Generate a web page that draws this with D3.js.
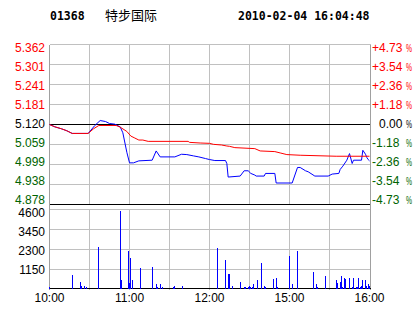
<!DOCTYPE html>
<html>
<head>
<meta charset="utf-8">
<script src="https://cdn.jsdelivr.net/npm/d3@7/dist/d3.min.js"></script>
<style>
  html, body { margin: 0; padding: 0; background: #fff; }
  svg { display: block; }
  text { font-family: "Liberation Sans", Arial, sans-serif; font-size: 12px; }
</style>
</head>
<body>
<script>
// header
const stockCode = '01368'
const stockName = '特步国际'
const stamp = '2010-02-04 16:04:48'
const prevClose = 5.12

// axis labels
const priceTicks = [5.362, 5.301, 5.241, 5.181, 5.120, 5.059, 4.999, 4.938, 4.878]
const priceLabels = ['5.362', '5.301', '5.241', '5.181', '5.120', '5.059', '4.999', '4.938', '4.878']
const pctLabels = ['+4.73', '+3.54', '+2.36', '+1.18', '0.00', '-1.18', '-2.36', '-3.54', '-4.73']
const volTicks = [4600, 3450, 2300, 1150]
const timeTicks = ['10:00', '11:00', '12:00', '15:00', '16:00']

// last price
const priceTimes = ['10:00', '10:04', '10:09', '10:13', '10:17', '10:29', '10:34', '10:38', '10:42', '10:45',
  '10:49', '10:53', '10:55', '10:58', '11:00', '11:03', '11:07', '11:17', '11:20', '11:23',
  '11:34', '11:39', '11:43', '11:48', '11:52', '11:57', '12:00', '12:04', '12:12', '12:13',
  '12:14', '12:23', '12:26', '12:29', '14:31', '14:34', '14:35', '14:41', '14:42', '14:49',
  '14:50', '15:02', '15:06', '15:08', '15:12', '15:14', '15:19', '15:29', '15:32', '15:37',
  '15:38', '15:40', '15:43', '15:45', '15:47', '15:48', '15:54', '15:55', '15:57', '15:58',
  '15:59', '16:00']
const priceValues = [5.120, 5.113, 5.107, 5.101, 5.093, 5.093, 5.117, 5.132, 5.129, 5.123,
  5.121, 5.113, 5.095, 5.036, 5.004, 5.004, 5.010, 5.012, 5.040, 5.022,
  5.022, 5.030, 5.029, 5.025, 5.022, 5.017, 5.014, 5.011, 5.011, 5.002,
  4.961, 4.964, 4.980, 4.980, 4.972, 4.967, 4.964, 4.964, 4.972, 4.972,
  4.943, 4.943, 4.990, 4.990, 4.980, 4.977, 4.964, 4.964, 4.970, 4.972,
  4.984, 4.994, 5.012, 5.032, 5.002, 5.012, 5.012, 5.042, 5.030, 5.020,
  5.014, 5.010]

// average price
const avgTimes = ['10:00', '10:04', '10:09', '10:13', '10:17', '10:29', '10:33', '10:37', '10:50', '10:53',
  '10:58', '11:01', '11:04', '11:07', '11:10', '11:14', '11:44', '11:45', '11:53', '12:00',
  '12:03', '12:09', '12:13', '12:15', '12:19', '14:34', '14:38', '14:49', '14:53', '14:58',
  '15:08', '15:35', '16:00']
const avgValues = [5.120, 5.113, 5.107, 5.101, 5.093, 5.093, 5.107, 5.117, 5.117, 5.112,
  5.099, 5.085, 5.079, 5.073, 5.073, 5.069, 5.069, 5.066, 5.064, 5.063,
  5.060, 5.058, 5.055, 5.054, 5.050, 5.047, 5.040, 5.038, 5.034, 5.029,
  5.027, 5.024, 5.024]

// volume
const volTimes = ['10:00', '10:17', '10:23', '10:24', '10:26', '10:28', '10:37', '10:53', '10:54', '10:59',
  '11:00', '11:01', '11:02', '11:08', '11:17', '11:20', '11:21', '11:23', '11:25', '11:33',
  '11:34', '11:40', '12:06', '12:12', '12:14', '12:15', '12:17', '12:23', '12:26', '12:27',
  '12:29', '14:30', '14:31', '14:32', '14:33', '14:36', '14:39', '14:41', '14:42', '14:48',
  '14:50', '14:51', '15:00', '15:02', '15:06', '15:18', '15:20', '15:21', '15:27', '15:35',
  '15:36', '15:38', '15:39', '15:40', '15:41', '15:42', '15:45', '15:47', '15:48', '15:50',
  '15:51', '15:52', '15:53', '15:54', '15:55', '15:57', '15:58', '15:59', '16:00']
const volValues = [170, 860, 420, 230, 230, 170, 2470, 4490, 520, 2240,
  360, 1800, 520, 1265, 1320, 290, 170, 290, 170, 170,
  230, 230, 2415, 1670, 920, 920, 230, 460, 170, 170,
  170, 230, 170, 170, 290, 575, 1550, 230, 170, 630,
  690, 170, 1900, 345, 2240, 1035, 345, 170, 750, 575,
  400, 460, 805, 170, 690, 630, 690, 170, 690, 170,
  170, 690, 170, 230, 520, 520, 230, 290, 230]

const width = 414, height = 314
const red = '#ff0000', green = '#006400', blue = '#0000ff'
const gridColor = '#c0c0c0', borderColor = '#a0a0a0'

// minutes of trading since open, lunch break removed (12:30 == 14:30)
const toMin = (t) => {
  const [h, m] = t.split(':').map(Number)
  const v = h * 60 + m
  return v <= 750 ? v - 600 : v - 870 + 150
}

const svg = d3.select('body').append('svg')
  .attr('width', width)
  .attr('height', height)

const x = d3.scaleLinear().domain([0, 240]).range([49.5, 369.5])
const y = d3.scaleLinear().domain([4.878, 5.362]).range([204.5, 44.5])
const yv = d3.scaleLinear().domain([0, 4600]).range([289.5, 209.5])
const labelY = d3.scaleLinear().domain([0, 8]).range([52, 203.5])
const volLabelY = d3.scaleLinear().domain([4600, 1150]).range([217, 274])
const left = 49.5, right = 370.5

// header
const head = svg.append('g')
head.append('text').attr('x', 50).attr('y', 20)
  .style('font-family', '"DejaVu Sans Mono", monospace').style('font-weight', 'bold').style('font-size', '11.5px')
  .text(stockCode)
head.append('text').attr('x', 105).attr('y', 20)
  .style('font-family', '"Noto Sans CJK SC", sans-serif').style('font-size', '13px')
  .text(stockName)
head.append('text').attr('x', 238).attr('y', 20)
  .style('font-family', '"DejaVu Sans Mono", monospace').style('font-weight', 'bold').style('font-size', '11.5px')
  .text(stamp)

const grid = svg.append('g').attr('shape-rendering', 'crispEdges')

// vertical grid, every 30 minutes
const vLines = d3.range(30, 240, 30)
grid.selectAll('.vp').data(vLines).enter().append('line')
  .attr('x1', (d) => x(d)).attr('x2', (d) => x(d))
  .attr('y1', y.range()[1]).attr('y2', y.range()[0])
  .attr('stroke', gridColor)
grid.selectAll('.vv').data(vLines).enter().append('line')
  .attr('x1', (d) => x(d)).attr('x2', (d) => x(d))
  .attr('y1', yv(4600)).attr('y2', yv(0))
  .attr('stroke', gridColor)

// horizontal grid
grid.selectAll('.hp').data(priceTicks).enter().append('line')
  .attr('x1', left).attr('x2', right)
  .attr('y1', (d) => Math.round(y(d) - 0.5) + 0.5).attr('y2', (d) => Math.round(y(d) - 0.5) + 0.5)
  .attr('stroke', (d) => d === prevClose || d === 4.878 ? '#000' : gridColor)
grid.selectAll('.hv').data(volTicks).enter().append('line')
  .attr('x1', left).attr('x2', right)
  .attr('y1', (d) => yv(d)).attr('y2', (d) => yv(d))
  .attr('stroke', gridColor)

// borders
grid.append('line').attr('x1', left).attr('x2', left).attr('y1', y.range()[1]).attr('y2', yv(0)).attr('stroke', borderColor)
grid.append('line').attr('x1', right).attr('x2', right).attr('y1', y.range()[1]).attr('y2', yv(0)).attr('stroke', borderColor)
grid.append('line').attr('x1', left).attr('x2', right).attr('y1', yv(0) - 1).attr('y2', yv(0) - 1).attr('stroke', '#000')

// left price labels
svg.selectAll('.pl').data(priceLabels).enter().append('text')
  .attr('x', 45).attr('y', (d, i) => labelY(i))
  .attr('text-anchor', 'end')
  .attr('fill', (d, i) => priceTicks[i] > prevClose ? red : priceTicks[i] < prevClose ? green : '#000')
  .text((d) => d)

// right percent labels
const pctColor = (d) => d.startsWith('+') ? red : d.startsWith('-') ? green : '#000'
svg.selectAll('.pr').data(pctLabels).enter().append('text')
  .attr('x', (d) => d === '0.00' ? 379 : 372).attr('y', (d, i) => labelY(i))
  .attr('fill', pctColor)
  .text((d) => d)
svg.selectAll('.pp').data(pctLabels).enter().append('text')
  .attr('x', 406).attr('y', (d, i) => labelY(i))
  .attr('fill', pctColor)
  .attr('textLength', 6).attr('lengthAdjust', 'spacingAndGlyphs')
  .style('font-size', '10px')
  .text('%')

// volume labels
svg.selectAll('.vl').data(volTicks).enter().append('text')
  .attr('x', 45).attr('y', (d) => volLabelY(d))
  .attr('text-anchor', 'end')
  .text((d) => d)

// time labels
svg.selectAll('.tl').data(timeTicks).enter().append('text')
  .attr('x', (d) => x(toMin(d))).attr('y', 302)
  .attr('text-anchor', 'middle')
  .text((d) => d)

// volume bars
const vols = volTimes.map((t, i) => ({ m: toMin(t), v: volValues[i] }))
svg.append('g').attr('shape-rendering', 'crispEdges')
  .selectAll('rect').data(vols).enter().append('rect')
  .attr('x', (d) => Math.floor(x(d.m)))
  .attr('width', 1)
  .attr('y', (d) => Math.round(yv(d.v)))
  .attr('height', (d) => Math.round(yv(0)) - 1 - Math.round(yv(d.v)))
  .attr('fill', blue)

// price and average lines
const line = d3.line().x((d) => x(d.m)).y((d) => y(d.p))
const price = priceTimes.map((t, i) => ({ m: toMin(t), p: priceValues[i] }))
const avg = avgTimes.map((t, i) => ({ m: toMin(t), p: avgValues[i] }))

svg.append('path').datum(price)
  .attr('d', line).attr('fill', 'none').attr('stroke', blue).attr('stroke-width', 1)
svg.append('path').datum(avg)
  .attr('d', line).attr('fill', 'none').attr('stroke', red).attr('stroke-width', 1)
</script>
</body>
</html>
